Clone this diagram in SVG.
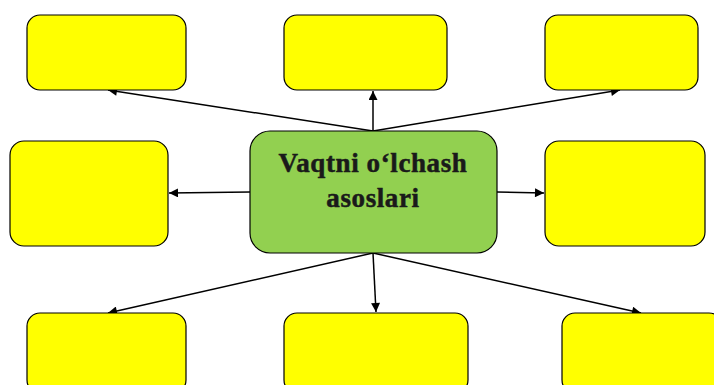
<svg xmlns="http://www.w3.org/2000/svg" width="714" height="385" viewBox="0 0 714 385">
<defs>
<marker id="ah" viewBox="0 0 10 10" refX="10" refY="5" markerWidth="11" markerHeight="9" markerUnits="userSpaceOnUse" orient="auto">
<path d="M0,0 L10,5 L0,10 z" fill="#000"/>
</marker>
<style>
.y{fill:#ffff00;stroke:#000;stroke-width:1.2}
.g{fill:#92d050;stroke:#000;stroke-width:1.2}
.c{stroke:#000;stroke-width:1.5;fill:none;marker-end:url(#ah)}
.t{font-family:"Liberation Serif",serif;font-weight:bold;font-size:27px;fill:#1a1a1a;stroke:#1a1a1a;stroke-width:0.5;text-anchor:middle;letter-spacing:0.6px}
</style>
</defs>
<rect width="714" height="385" fill="#fff"/>
<g id="connectors">
<line class="c" x1="373" y1="131" x2="108" y2="90"/>
<line class="c" x1="373" y1="131" x2="373" y2="91"/>
<line class="c" x1="373" y1="131" x2="620" y2="90"/>
<line class="c" x1="250" y1="192" x2="169" y2="193"/>
<line class="c" x1="497" y1="192" x2="544" y2="193"/>
<line class="c" x1="373" y1="253" x2="108" y2="313"/>
<line class="c" x1="373" y1="253" x2="376" y2="312"/>
<line class="c" x1="373" y1="253" x2="641" y2="313"/>
</g>
<g id="n1"><rect class="y" x="27" y="15" width="159" height="75" rx="13"/></g>
<g id="n2"><rect class="y" x="284" y="15" width="163" height="75" rx="13"/></g>
<g id="n3"><rect class="y" x="545" y="15" width="153" height="75" rx="13"/></g>
<g id="n4"><rect class="y" x="10" y="141" width="158" height="105" rx="14"/></g>
<g id="n5"><rect class="y" x="545" y="141" width="160" height="105" rx="14"/></g>
<g id="n6"><rect class="y" x="27" y="313" width="159" height="80" rx="13"/></g>
<g id="n7"><rect class="y" x="284" y="313" width="184" height="80" rx="13"/></g>
<g id="n8"><rect class="y" x="562" y="313" width="160" height="80" rx="13"/></g>
<g id="center">
<rect class="g" x="250" y="131" width="247" height="122" rx="20"/>
<text class="t" x="373" y="172">Vaqtni o‘lchash</text>
<text class="t" x="373" y="207">asoslari</text>
</g>
</svg>
